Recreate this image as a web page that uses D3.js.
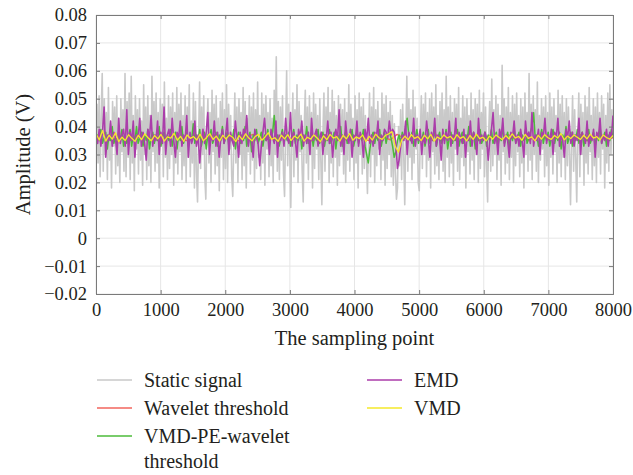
<!DOCTYPE html>
<html>
<head>
<meta charset="utf-8">
<script src="https://cdn.jsdelivr.net/npm/d3@7"></script>
<style>
  body { margin: 0; background: #fff; }
  svg { display: block; }
</style>
</head>
<body>
<div id="chart"></div>
<script>
// values in mV (samples spread evenly over 0..8000)
var staticSignal = [
  36,48,27,51,22,44,59,24,50,30,45,21,54,28,41,18,49,33,47,23,
  51,26,43,20,50,31,46,24,59,22,49,29,52,21,58,27,44,17,51,32,
  46,23,50,28,42,19,55,30,47,21,51,26,44,20,58,31,49,24,52,27,
  45,18,50,33,48,22,56,29,43,21,51,25,47,30,52,19,45,27,54,23,
  48,31,52,21,44,26,51,20,47,29,55,22,42,27,52,18,49,24,13,35,
  56,25,47,30,51,22,14,38,50,27,45,20,53,31,48,23,51,26,43,17,
  49,29,52,21,46,25,55,20,48,32,44,22,15,34,52,27,47,20,50,30,
  45,21,54,26,49,18,43,31,51,23,47,28,52,20,46,25,56,29,44,21,
  52,27,48,19,51,32,45,22,50,26,43,20,53,30,65,24,49,21,47,28,
  51,23,15,38,60,26,48,30,11,36,52,22,46,28,55,20,49,31,44,24,
  13,40,53,27,47,21,51,30,45,18,52,25,48,32,44,21,50,28,12,37,
  52,24,47,30,54,20,45,27,53,22,49,29,44,19,51,26,48,31,46,23,
  50,20,45,28,55,24,48,31,43,21,51,27,46,18,52,30,47,23,50,25,
  44,29,16,35,52,22,47,30,54,20,46,26,49,32,43,21,52,28,48,19,
  51,25,45,30,49,22,44,19,41,24,14,18,40,26,46,21,48,30,12,35,
  58,24,50,29,46,21,53,27,47,32,43,20,17,36,51,25,48,30,52,22,
  45,28,50,18,52,31,47,23,55,26,44,21,49,30,52,24,46,20,58,29,
  47,22,51,27,45,19,50,32,48,24,54,21,43,29,51,26,47,18,50,31,
  44,23,52,28,46,21,50,30,48,20,53,25,45,32,52,22,47,27,13,38,
  49,24,57,26,46,30,51,21,48,28,44,19,62,31,50,23,47,27,54,21,
  45,29,51,20,48,26,52,31,44,22,50,27,47,18,52,30,45,24,59,28,
  48,21,51,30,46,24,56,20,44,28,50,32,47,22,51,26,45,19,52,29,
  47,23,50,31,44,20,53,27,48,22,51,29,45,21,50,26,47,30,12,34,
  51,24,46,29,13,37,52,22,48,30,45,19,51,27,47,23,54,31,44,21,
  50,26,47,20,52,29,45,23,51,32,48,18,44,27,52,24,55,30,46,36
];
var waveletThreshold = [
  36,35,37,35.5,36.5,34.8,36.2,37.2,35.4,36.6, 35.2,36.4,37,35.6,34.9,36.8,36,35.3,37.1,35.7,
  36.6,35.5,34.8,36.3,37.2,35.4,36.7,35.6,36.1,37, 35.3,36.6,35.5,34.9,36.2,37.1,35.6,36.8,35.2,36.3,
  37,35.5,34.8,36.7,36.1,35.3,37.2,36,35.6,36.8, 34.9,36.2,37,35.5,36.7,35.2,36.3,37.1,35.6,34.8,
  36.8,36,35.3,37.1,35.6,36.7,34.9,36.2,37,35.5, 36.1,35.3,36.8,35.6,37.2,34.9,36.2,36.7,35.5,36
];
var vmdPeWavelet = [
  33,37,35,39,34,36,38,32,37,35,40,34,36,33,38,35,39,33,37,34,
  36,39,33,37,35,40,34,36,38,33,37,35,39,32,36,38,34,37,35,40,
  33,36,38,34,37,35,39,33,36,38,32,37,35,40,34,36,38,33,37,35,
  41,34,37,35,39,33,36,38,32,37,35,39,34,36,38,33,37,35,40,34,
  36,38,33,37,35,39,32,36,38,34,37,35,40,33,36,38,31,37,35,39,
  34,36,38,33,37,35,39,34,36,38,44,35,37,33,36,39,34,37,35,38,
  33,36,39,34,37,35,38,32,37,35,40,34,36,38,33,37,35,39,34,36,
  38,33,37,35,39,34,36,38,32,37,35,40,33,36,38,34,37,35,39,33,
  36,38,34,37,35,39,33,30,27,32,36,38,34,37,35,39,33,36,38,34,
  37,38,36,33,29,31,35,37,34,38,36,39,43,37,35,38,33,36,39,34,
  37,35,38,33,36,39,34,37,35,40,33,36,38,34,37,35,39,32,36,38,
  34,37,35,39,33,36,38,34,37,35,40,33,36,38,32,37,35,39,34,36,
  38,33,37,35,39,34,36,38,33,37,35,40,34,36,38,32,37,35,39,34,
  36,38,33,37,35,39,34,36,38,40,45,36,37,33,36,39,34,37,35,38,
  33,36,39,34,37,35,38,32,37,35,40,34,36,38,33,37,35,39,34,36,
  38,33,37,35,39,34,36,38,33,37,35,40,34,36,38,33,37,35,39,36
];
var emd = [
  37,34,39,33,38,47,29,37,35,42,33,38,36,30,43,34,37,39,33,46,
  30,38,35,42,29,37,36,43,33,38,34,28,39,36,44,33,37,35,42,30,
  38,34,47,30,37,39,33,43,35,29,38,36,42,33,37,35,44,29,38,34,
  36,42,33,37,27,35,39,34,38,45,30,37,35,42,33,38,29,36,39,34,
  37,43,30,38,35,33,42,36,29,38,34,39,36,44,33,37,35,29,39,36,
  34,26,33,38,43,35,37,30,39,36,34,42,29,37,35,38,33,43,36,34,
  45,33,38,35,29,39,36,42,33,37,34,38,30,43,35,37,39,33,36,38,
  30,37,35,42,34,38,29,36,39,35,46,33,37,30,42,36,34,39,29,37,
  35,42,33,38,36,29,39,35,43,34,37,33,38,36,42,30,37,35,39,38,
  36,42,37,39,38,34,25,28,33,37,35,42,30,38,36,34,43,33,37,35,
  39,30,37,34,42,36,29,38,35,43,33,37,36,28,39,34,38,35,42,33,
  37,35,43,30,38,36,34,39,29,37,35,42,33,38,36,30,43,34,37,35,
  38,36,28,35,39,45,34,37,30,39,36,43,33,37,35,29,38,36,42,34,
  37,33,39,35,29,42,36,38,34,45,33,37,35,39,30,38,36,43,34,37,
  35,39,30,38,36,43,33,37,35,29,39,36,42,34,38,33,37,35,43,30,
  38,36,34,42,33,37,35,39,29,38,36,43,34,37,35,39,33,38,36,44
];
var vmd = [
  37.5,35.2,38.6,34.8,36.9,35.5,37.8,34.6,36.2,35.0, 37.1,35.8,34.7,36.9,35.3,37.4,36.0,34.9,36.8,35.6,
  37.2,34.8,36.3,35.9,37.6,35.1,36.5,34.7,37.0,35.8, 36.4,35.2,37.3,34.9,36.1,37.5,35.4,36.6,34.8,36.9,
  35.5,37.0,36.2,34.6,36.8,35.3,37.4,35.9,34.9,36.5, 37.2,35.1,36.3,37.8,35.4,36.0,34.7,36.9,35.6,37.1,
  35.0,36.6,35.8,37.3,34.8,36.2,35.5,37.0,35.9,34.6, 36.7,35.3,37.2,35.9,36.4,34.8,36.9,35.6,37.5,35.1,
  36.3,35.7,37.0,34.7,36.5,35.2,37.3,36.0,35.4,36.8, 37.4,38.2,33.0,30.8,35.1,36.6,35.3,37.1,35.8,36.4,
  35.0,36.9,35.6,37.2,34.8,36.3,35.5,37.0,35.9,36.5, 35.2,37.1,35.8,36.4,34.9,36.8,35.4,37.3,35.7,36.2,
  34.9,36.6,35.5,37.0,36.1,35.3,36.8,35.6,37.4,35.9, 36.5,35.1,37.2,35.8,36.3,34.9,36.9,35.5,37.1,36.0,
  35.4,36.8,35.9,37.5,35.2,36.6,35.7,37.0,36.2,35.4, 36.9,35.6,37.3,35.9,36.4,35.2,37.0,36.1,35.5,36.8
];

var xTicks = [0, 1000, 2000, 3000, 4000, 5000, 6000, 7000, 8000];
var yTicks = [-20, -10, 0, 10, 20, 30, 40, 50, 60, 70, 80];
var yTickLabels = ["\u22120.02", "\u22120.01", "0", "0.01", "0.02", "0.03", "0.04", "0.05", "0.06", "0.07", "0.08"];

var series = [
  { name: "Static signal", values: staticSignal, color: "#c9c9c9", w: 1.6 },
  { name: "Wavelet threshold", values: waveletThreshold, color: "#f2645c", w: 1.4 },
  { name: "VMD-PE-wavelet threshold", values: vmdPeWavelet, color: "#4cbb3a", w: 1.5 },
  { name: "EMD", values: emd, color: "#ab3daa", w: 1.6 },
  { name: "VMD", values: vmd, color: "#f5e92a", w: 1.3 }
];

var W = 633, H = 475;
var margin = { top: 15, right: 20, bottom: 181, left: 96 };
var width = 613 - margin.left;
var height = 294 - margin.top;
var serif = "'Liberation Serif', 'DejaVu Serif', serif";
var ink = "#231f20";

var svg = d3.select("#chart").append("svg")
    .attr("width", W)
    .attr("height", H);

var g = svg.append("g")
    .attr("transform", `translate(${margin.left},${margin.top})`);

var x = d3.scaleLinear().domain([0, 8000]).range([0, width]);
var y = d3.scaleLinear().domain([-20, 80]).range([height, 0]);

// grid
g.append("g").selectAll("line").data(xTicks).join("line")
    .attr("x1", d => x(d)).attr("x2", d => x(d))
    .attr("y1", 0).attr("y2", height)
    .attr("stroke", "#e6e6e6").attr("stroke-width", 1);
g.append("g").selectAll("line").data(yTicks).join("line")
    .attr("x1", 0).attr("x2", width)
    .attr("y1", d => y(d)).attr("y2", d => y(d))
    .attr("stroke", "#e6e6e6").attr("stroke-width", 1);

// signals
svg.append("defs").append("clipPath").attr("id", "clip")
    .append("rect").attr("width", width).attr("height", height);

var lines = g.append("g").attr("clip-path", "url(#clip)");
series.forEach(function (s) {
    var n = s.values.length;
    var line = d3.line()
        .x((d, i) => x(i * 8000 / (n - 1)))
        .y(d => y(d));
    lines.append("path")
        .datum(s.values)
        .attr("fill", "none")
        .attr("stroke", s.color)
        .attr("stroke-width", s.w)
        .attr("stroke-linejoin", "round")
        .attr("d", line);
});

// axes (inside ticks, mirrored box)
var axisColor = "#7a7a7a";
g.append("g")
    .attr("transform", `translate(0,${height})`)
    .call(d3.axisBottom(x).tickValues(xTicks).tickSize(-4).tickPadding(9).tickFormat(d3.format("d")));
g.append("g")
    .call(d3.axisLeft(y).tickValues(yTicks).tickSize(-4).tickPadding(9)
        .tickFormat((d, i) => yTickLabels[i]));
g.append("g")
    .call(d3.axisTop(x).tickValues(xTicks).tickSize(-4).tickFormat(""));
g.append("g")
    .attr("transform", `translate(${width},0)`)
    .call(d3.axisRight(y).tickValues(yTicks).tickSize(-4).tickFormat(""));

g.selectAll(".domain").attr("stroke", axisColor);
g.selectAll(".tick line").attr("stroke", axisColor);
g.selectAll(".tick text")
    .attr("fill", ink)
    .style("font-family", serif)
    .style("font-size", "18.5px");

// axis titles
svg.append("text")
    .attr("x", margin.left + width / 2)
    .attr("y", 345)
    .attr("text-anchor", "middle")
    .attr("fill", ink)
    .style("font-family", serif)
    .style("font-size", "20.5px")
    .text("The sampling point");

svg.append("text")
    .attr("transform", `translate(30,${margin.top + height / 2}) rotate(-90)`)
    .attr("text-anchor", "middle")
    .attr("fill", ink)
    .style("font-family", serif)
    .style("font-size", "20.5px")
    .text("Amplitude (V)");

// legend
var legendItems = [
  { s: series[0], col: 0, row: 0, lines: ["Static signal"] },
  { s: series[1], col: 0, row: 1, lines: ["Wavelet threshold"] },
  { s: series[2], col: 0, row: 2, lines: ["VMD-PE-wavelet", "threshold"] },
  { s: series[3], col: 1, row: 0, lines: ["EMD"] },
  { s: series[4], col: 1, row: 1, lines: ["VMD"] }
];
var colX = [97, 367];
var rowY = 380, rowH = 28;

var legend = svg.append("g");
legendItems.forEach(function (it) {
    var lx = colX[it.col], ly = rowY + it.row * rowH;
    legend.append("line")
        .attr("x1", lx).attr("x2", lx + 35)
        .attr("y1", ly).attr("y2", ly)
        .attr("stroke", it.s.color).attr("stroke-width", 1.5);
    it.lines.forEach(function (t, k) {
        legend.append("text")
            .attr("x", lx + 47)
            .attr("y", ly + 7 + k * 25)
            .attr("fill", ink)
            .style("font-family", serif)
            .style("font-size", "20px")
            .text(t);
    });
});
</script>
</body>
</html>
